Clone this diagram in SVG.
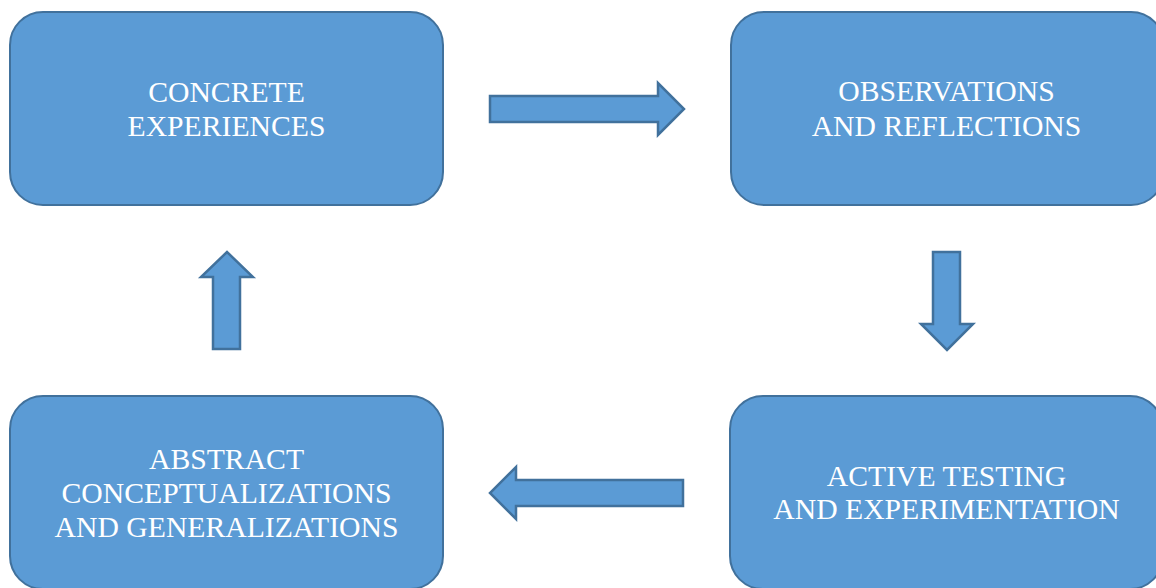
<svg xmlns="http://www.w3.org/2000/svg" width="1156" height="588" viewBox="0 0 1156 588">
<style>
.box{fill:#5B9BD5;stroke:#41719C;stroke-width:2}
.arr{fill:#5B9BD5;stroke:#41719C;stroke-width:2.5;stroke-linejoin:miter}
.lbl{font-family:"Liberation Serif","Times New Roman",serif;font-size:29.7px;fill:#FFFFFF;text-anchor:middle}
</style>
<rect width="1156" height="588" fill="#FFFFFF"/>
<g id="connectors">
<polygon class="arr" points="490,96 658,96 658,83 684,109 658,135 658,122 490,122"/>
<polygon class="arr" points="933,252 960,252 960,324 973,324 947,350 921,324 933,324"/>
<polygon class="arr" points="683,480 516,480 516,467 490,493 516,519 516,506 683,506"/>
<polygon class="arr" points="213,349 213,277 201,277 227,252 253,277 240,277 240,349"/>
</g>
<g id="concrete">
<rect class="box" x="10" y="12" width="433" height="193" rx="33" ry="33"/>
<text class="lbl" x="226.5" y="102">CONCRETE</text>
<text class="lbl" x="226.5" y="136">EXPERIENCES</text>
</g>
<g id="observations">
<rect class="box" x="731" y="12" width="433" height="193" rx="33" ry="33"/>
<text class="lbl" x="946.5" y="101">OBSERVATIONS</text>
<text class="lbl" x="946.5" y="136">AND REFLECTIONS</text>
</g>
<g id="active">
<rect class="box" x="730" y="396" width="433" height="193" rx="33" ry="33"/>
<text class="lbl" x="946.5" y="486">ACTIVE TESTING</text>
<text class="lbl" x="946.5" y="519">AND EXPERIMENTATION</text>
</g>
<g id="abstract">
<rect class="box" x="10" y="396" width="433" height="193" rx="33" ry="33"/>
<text class="lbl" x="226.5" y="469">ABSTRACT</text>
<text class="lbl" x="226.5" y="503">CONCEPTUALIZATIONS</text>
<text class="lbl" x="226.5" y="537">AND GENERALIZATIONS</text>
</g>
</svg>
